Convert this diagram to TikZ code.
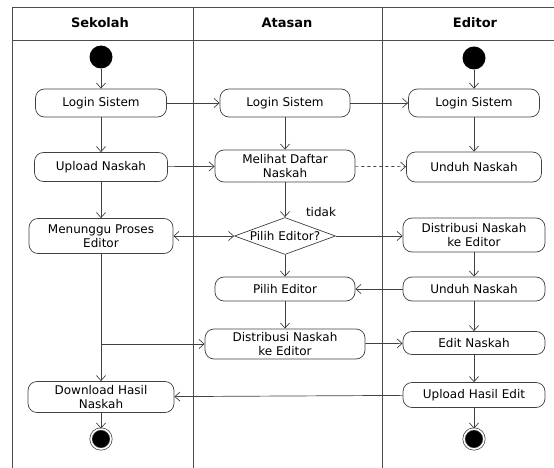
\documentclass[tikz,border=0pt]{standalone}
\usepackage{fontspec}
\setmainfont{DejaVu Sans}
\usepackage{tikz}
\usetikzlibrary{arrows.meta,positioning,calc,shapes}

\begin{document}
\begin{tikzpicture}[
    x=1pt, y=-1pt,
    every node/.style={font=\fontsize{12}{13.5}\selectfont},
    lane/.style={draw=black!70, line width=0.9pt},
    head/.style={font=\fontsize{13}{14}\selectfont\bfseries},
    act/.style={rectangle, draw=black!75, line width=0.7pt, rounded corners=9pt, align=center, inner sep=1pt},
    choice/.style={diamond, draw=black!75, line width=0.7pt, aspect=2.7, inner sep=0pt},
    startpt/.style={circle, fill=black, minimum size=23pt, inner sep=0pt},
    endpt/.style={circle, draw=black!75, line width=0.7pt, fill=black, double=white, double distance=1.6pt, minimum size=20pt, inner sep=0pt},
    flow/.style={draw=black!75, line width=0.7pt, -{Straight Barb[length=1.8mm,width=3.2mm]}},
]
    \useasboundingbox (0,0) rectangle (554,468);

    % Swimlanes
    \draw[lane] (554,7) -- (12,7) -- (12,468);
    \draw[lane] (12,40) -- (554,40);
    \draw[lane] (193,7) -- (193,468);
    \draw[lane] (382,7) -- (382,468);
    \node[head] (hsekolah) at (100,23) {Sekolah};
    \node[head] (hatasan) at (287,23) {Atasan};
    \node[head] (heditor) at (475,23) {Editor};

    % Sekolah
    \node[startpt] (start1) at (101,57) {};
    \node[act, minimum width=131pt, minimum height=28pt] (login1) at (101,103) {Login Sistem};
    \node[act, minimum width=133pt, minimum height=29pt] (upload) at (101,167) {Upload Naskah};
    \node[act, minimum width=144pt, minimum height=35pt] (tunggu) at (101,236) {Menunggu Proses\\Editor};
    \node[act, minimum width=146pt, minimum height=31pt] (download) at (101,397) {Download Hasil\\Naskah};
    \node[endpt] (end1) at (101,439) {};

    % Atasan
    \node[act, minimum width=130pt, minimum height=28pt] (login2) at (285,103) {Login Sistem};
    \node[act, minimum width=140pt, minimum height=32pt] (lihat) at (285,166) {Melihat Daftar\\Naskah};
    \node[choice, minimum width=101pt, minimum height=37pt] (pilih) at (285,236) {Pilih Editor?};
    \node (tidak) at (321,212) {tidak};
    \node[act, minimum width=140pt, minimum height=24pt] (pilihed) at (285,289) {Pilih Editor};
    \node[act, minimum width=160pt, minimum height=30pt] (distatasan) at (285,344) {Distribusi Naskah\\ke Editor};

    % Editor
    \node[startpt] (start3) at (474,58) {};
    \node[act, minimum width=131pt, minimum height=28pt] (login3) at (474,103) {Login Sistem};
    \node[act, minimum width=135pt, minimum height=30pt] (unduh1) at (474,167) {Unduh Naskah};
    \node[act, minimum width=142pt, minimum height=34pt] (disteditor) at (474,235) {Distribusi Naskah\\ke Editor};
    \node[act, minimum width=142pt, minimum height=24pt] (unduh2) at (474,289) {Unduh Naskah};
    \node[act, minimum width=142pt, minimum height=23pt] (edit) at (474,343) {Edit Naskah};
    \node[act, minimum width=142pt, minimum height=25pt] (hasil) at (474,395) {Upload Hasil Edit};
    \node[endpt] (end3) at (474,439) {};

    \coordinate (cabang) at (tunggu.south |- distatasan);

    % Flows
    \draw[flow] (start1) -- (login1);
    \draw[flow] (login1) -- (upload);
    \draw[flow] (upload) -- (tunggu);
    \draw[flow] (tunggu) -- (download);
    \draw[flow] (download) -- (end1);
    \draw[flow] (login1) -- (login2);
    \draw[flow] (login2) -- (login3);
    \draw[flow] (start3) -- (login3);
    \draw[flow] (login2) -- (lihat);
    \draw[flow] (upload) -- (lihat);
    \draw[flow] (login3) -- (unduh1);
    \draw[flow, dashed] (lihat) -- (unduh1);
    \draw[flow] (lihat) -- (pilih);
    \draw[flow, {Straight Barb[length=1.8mm,width=3.2mm]}-{Straight Barb[length=1.8mm,width=3.2mm]}] (tunggu) -- (pilih);
    \draw[flow] (pilih) -- (disteditor.west |- pilih);
    \draw[flow] (pilih) -- (pilihed);
    \draw[flow] (disteditor) -- (unduh2);
    \draw[flow] (unduh2) -- (pilihed);
    \draw[flow] (pilihed) -- (distatasan);
    \draw[flow] (cabang) -- (distatasan);
    \draw[flow] (unduh2) -- (edit);
    \draw[flow] (distatasan) -- (edit);
    \draw[flow] (edit) -- (hasil);
    \draw[flow] (hasil) -- (download);
    \draw[flow] (hasil) -- (end3);
\end{tikzpicture}
\end{document}
